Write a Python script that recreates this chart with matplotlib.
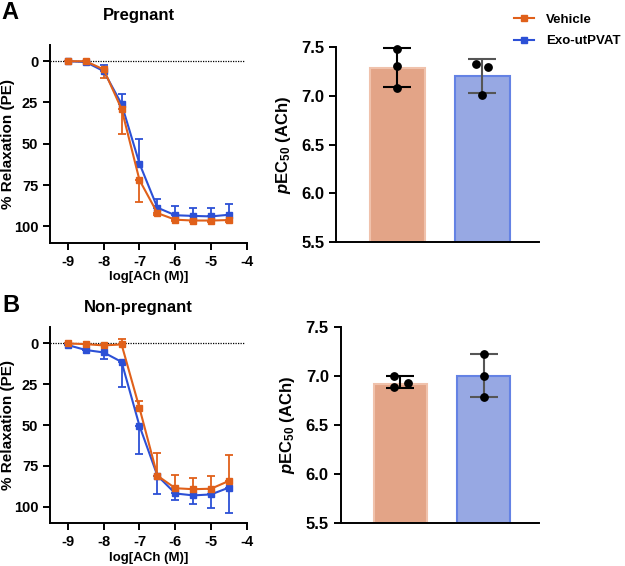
import numpy as np
import matplotlib.pyplot as plt
from matplotlib.lines import Line2D

plt.rcParams['font.family'] = ['Liberation Sans', 'DejaVu Sans']
plt.rcParams['font.weight'] = 'bold'
plt.rcParams['axes.unicode_minus'] = False
plt.rcParams['mathtext.fontset'] = 'custom'
plt.rcParams['mathtext.it'] = 'Liberation Sans:italic:bold'
plt.rcParams['mathtext.rm'] = 'Liberation Sans:bold'

# concentration-response data, log[ACh]
log_ach = [-9, -8.5, -8, -7.5, -7, -6.5, -6, -5.5, -5, -4.5]

# pregnant
preg_veh = [0, 0, 5, 29, 72, 92, 96, 96.5, 96.5, 96.2]
preg_veh_err = [0, 0, 5, 15, 13, 1, 1, 1, 1, 1]      # drawn downward
preg_exo = [0, 0.5, 6, 26, 62, 88.7, 93.3, 93.7, 94, 93]
preg_exo_err = [0, 0, 3.6, 6, 15, 5.3, 5.6, 4.8, 5, 6.4]   # drawn upward

# non-pregnant
np_veh = [0, 0.4, 1.2, 0.6, 39.6, 81, 88.7, 89.3, 89, 84.2]
np_veh_err = [0, 0, 0, 3.6, 4.2, 13.7, 8.1, 7.1, 7.8, 15.7]  # upward
np_exo = [1, 4, 5.5, 11.3, 50.5, 81, 91.9, 93.1, 92.5, 88.3]
np_exo_err = [0, 0, 4.2, 15.6, 17.2, 11, 4.3, 5.1, 8.1, 15.4]  # downward

# pEC50 bars
groups = ['Vehicle', 'Exo-utPVAT']
preg_pec50 = [7.28, 7.20]
preg_pec50_lo = [7.09, 7.03]
preg_pec50_hi = [7.49, 7.38]
preg_pts = [[7.48, 7.31, 7.08], [7.33, 7.30, 7.01]]
preg_jit = [[0, 0, 0], [-0.07, 0.07, 0]]

np_pec50 = [6.92, 7.00]
np_pec50_lo = [6.88, 6.79]
np_pec50_hi = [7.00, 7.23]
np_pts = [[7.00, 6.89, 6.93], [7.23, 7.00, 6.79]]
np_jit = [[-0.08, -0.08, 0.09], [0, 0, 0]]

c_veh = '#E0601A'
c_exo = '#2C50D6'
bar_fill = ['#E3A487', '#97A8E3']
bar_edge = ['#F0C2AC', '#6482E4']
err_col = ['black', '#555555']


def style_axes(ax):
    for s in ['top', 'right']:
        ax.spines[s].set_visible(False)
    for s in ['left', 'bottom']:
        ax.spines[s].set_linewidth(1.4)
    ax.tick_params(width=1.4, length=5, labelsize=10.5)


def curve_panel(ax, veh, veh_err, veh_dir, exo, exo_err, exo_dir):
    ax.axhline(0, color='black', linestyle=(0, (1, 1)), linewidth=0.9, xmax=0.99)
    for y, err, d, col in [(exo, exo_err, exo_dir, c_exo), (veh, veh_err, veh_dir, c_veh)]:
        y = np.array(y)
        err = np.array(err)
        if d == 'down':
            yerr = [np.zeros_like(err), err]
        else:
            yerr = [err, np.zeros_like(err)]
        ax.errorbar(log_ach, y, yerr=yerr, color=col, marker='s', markersize=5,
                    linewidth=1.5, elinewidth=1.3, capsize=3, capthick=1.3)
    ax.set_xlim(-9.5, -4)
    ax.set_ylim(110, -10)
    ax.set_xticks([-9, -8, -7, -6, -5, -4])
    ax.set_yticks([0, 25, 50, 75, 100])
    ax.set_xlabel('log[ACh (M)]', fontsize=9.5, fontweight='bold', labelpad=2)
    ax.set_ylabel('% Relaxation (PE)', fontsize=11, fontweight='bold')
    ax.yaxis.set_label_coords(-0.18, 0.5)
    style_axes(ax)


def bar_panel(ax, vals, lo, hi, pts, jit):
    x = np.arange(len(groups))
    ax.bar(x, np.array(vals) - 5.5, bottom=5.5, width=0.64, color=bar_fill,
           edgecolor=bar_edge, linewidth=1.5, zorder=1)
    for i in range(len(groups)):
        ax.errorbar(x[i], vals[i], yerr=[[vals[i] - lo[i]], [hi[i] - vals[i]]],
                    color=err_col[i], linewidth=1.5, capsize=10, capthick=1.5,
                    zorder=2, clip_on=False)
        ax.scatter(x[i] + np.array(jit[i]), pts[i], color='black', s=28, zorder=3,
                   clip_on=False)
    ax.set_xlim(-0.72, 1.67)
    ax.set_ylim(5.5, 7.5)
    ax.set_yticks([5.5, 6.0, 6.5, 7.0, 7.5])
    ax.set_yticklabels(['5.5', '6.0', '6.5', '7.0', '7.5'])
    ax.set_xticks([])
    ax.set_ylabel(r'$\mathit{p}$EC$_{\mathrm{50}}$ (ACh)', fontsize=12,
                  fontweight='bold', labelpad=6)
    style_axes(ax)
    ax.tick_params(labelsize=12)


fig = plt.figure(figsize=(6.25, 5.66), dpi=100)

ax1 = fig.add_axes([0.08, 0.571, 0.315, 0.35])
curve_panel(ax1, preg_veh, preg_veh_err, 'down', preg_exo, preg_exo_err, 'up')
ax2 = fig.add_axes([0.538, 0.572, 0.325, 0.345])
bar_panel(ax2, preg_pec50, preg_pec50_lo, preg_pec50_hi, preg_pts, preg_jit)

ax3 = fig.add_axes([0.08, 0.076, 0.315, 0.346])
curve_panel(ax3, np_veh, np_veh_err, 'up', np_exo, np_exo_err, 'down')
ax4 = fig.add_axes([0.545, 0.076, 0.318, 0.346])
bar_panel(ax4, np_pec50, np_pec50_lo, np_pec50_hi, np_pts, np_jit)

fig.text(0.222, 0.973, 'Pregnant', ha='center', va='center', fontsize=12, fontweight='bold')
fig.text(0.222, 0.456, 'Non-pregnant', ha='center', va='center', fontsize=12, fontweight='bold')
fig.text(0.003, 0.978, 'A', ha='left', va='center', fontsize=17, fontweight='bold')
fig.text(0.003, 0.461, 'B', ha='left', va='center', fontsize=17, fontweight='bold')

handles = [Line2D([], [], color=c_veh, marker='s', markersize=5, linewidth=1.5),
           Line2D([], [], color=c_exo, marker='s', markersize=5, linewidth=1.5)]
fig.legend(handles, groups, loc='upper right', bbox_to_anchor=(1.005, 0.99), frameon=False,
           prop={'size': 9.5, 'weight': 'bold'}, handlelength=1.5, handletextpad=0.9,
           labelspacing=0.7, borderaxespad=0.2)

fig.savefig('out.png', dpi=100)
